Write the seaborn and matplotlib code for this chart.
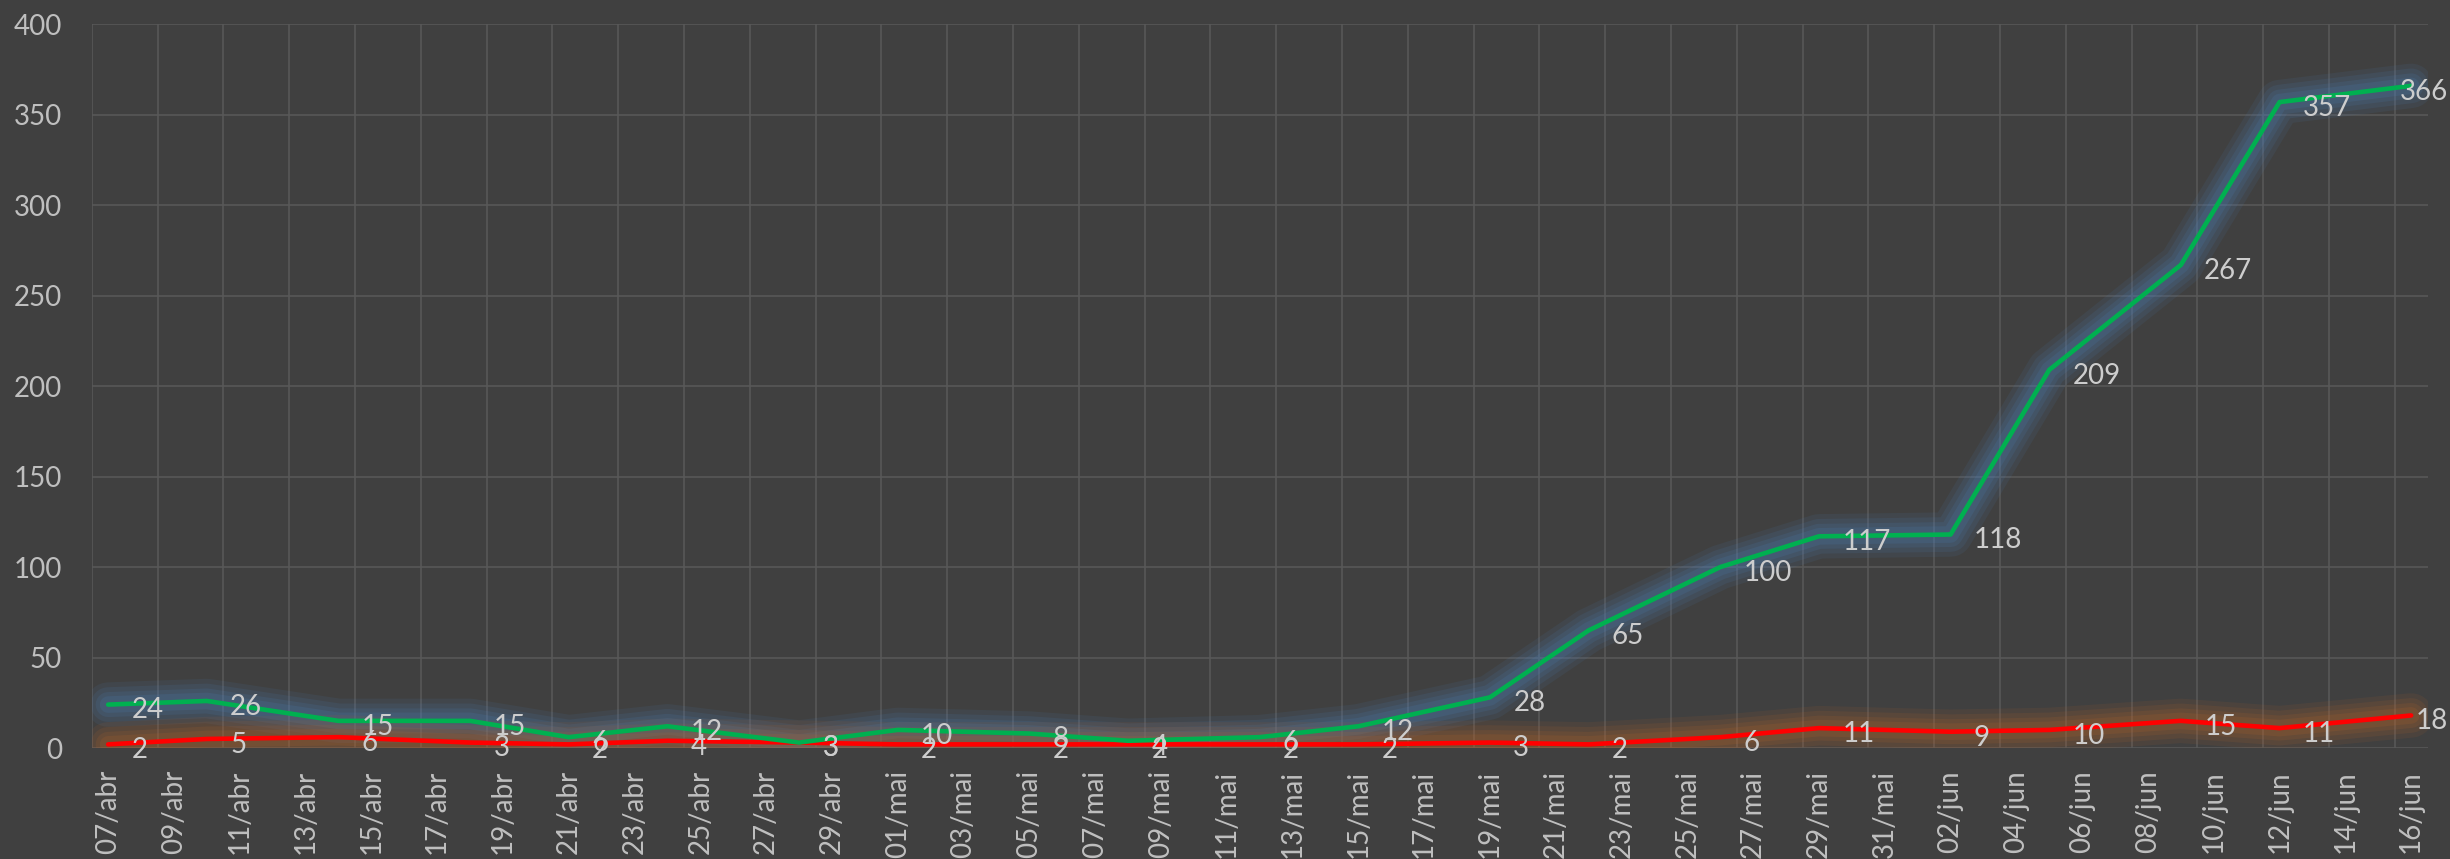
import numpy as np
import pandas as pd
import matplotlib
matplotlib.use("Agg")
import matplotlib.pyplot as plt
import seaborn as sns

# dados (dd/mm de 2020)
datas = ["07/04", "10/04", "14/04", "18/04", "21/04", "24/04", "28/04",
         "01/05", "05/05", "08/05", "12/05", "15/05", "19/05", "22/05",
         "26/05", "29/05", "02/06", "05/06", "09/06", "12/06", "16/06"]
serie_verde = [24, 26, 15, 15, 6, 12, 3, 10, 8, 4, 6, 12, 28, 65, 100,
               117, 118, 209, 267, 357, 366]
serie_vermelha = [2, 5, 6, 3, 2, 4, 3, 2, 2, 2, 2, 2, 3, 2, 6, 11, 9,
                  10, 15, 11, 18]
meses = {4: "abr", 5: "mai", 6: "jun"}

BG = "#404040"
GRID = "#585858"
TXT = "#cdcdcd"
TICK = "#bfbfbf"
FS = 20

df = pd.DataFrame({
    "data": pd.to_datetime([d + "/2020" for d in datas], format="%d/%m/%Y"),
    "verde": serie_verde,
    "vermelha": serie_vermelha,
})
inicio = df["data"].min()
df["dia"] = (df["data"] - inicio).dt.days

sns.set_theme(style="dark")
plt.rcParams["font.family"] = ["Lato", "DejaVu Sans"]

fig = plt.figure(figsize=(24.5, 8.59), dpi=100, facecolor=BG)
ax = fig.add_axes([0.03743, 0.12922, 0.95343, 0.84249])
ax.set_facecolor(BG)

# brilho (glow) por baixo das linhas
for serie, cor_glow in [("verde", "#4a80b8"), ("vermelha", "#b8642a")]:
    for lw, a in zip([32, 25, 18, 12], [0.10, 0.12, 0.14, 0.16]):
        sns.lineplot(data=df, x="dia", y=serie, ax=ax, color=cor_glow,
                     linewidth=lw, alpha=a, legend=False,
                     solid_joinstyle="round", solid_capstyle="round")

sns.lineplot(data=df, x="dia", y="vermelha", ax=ax, color="#ff0000",
             linewidth=3.3, legend=False, solid_joinstyle="round", zorder=5)
sns.lineplot(data=df, x="dia", y="verde", ax=ax, color="#00b050",
             linewidth=3.3, legend=False, solid_joinstyle="round", zorder=6)

# rotulos de dados
ultimo = df["dia"].max()
for serie in ["verde", "vermelha"]:
    for x, v in zip(df["dia"], df[serie]):
        if x == ultimo:
            ax.annotate(str(v), (x, v), xytext=(26.6, -10), textcoords="offset points",
                        ha="right", va="baseline", fontsize=FS, color=TXT,
                        zorder=10, annotation_clip=False)
        else:
            ax.annotate(str(v), (x, v), xytext=(16.8, -10), textcoords="offset points",
                        ha="left", va="baseline", fontsize=FS, color=TXT, zorder=10)

# eixos
dias_tick = pd.date_range(inicio, periods=36, freq="2D")
ax.set_xticks(range(0, 71, 2))
ax.set_xticklabels([f"{d.day:02d}/{meses[d.month]}" for d in dias_tick])
ax.set_xticks(np.arange(-0.5, 70, 2), minor=True)
ax.set_xlim(-0.5, 70.5)
ax.set_ylim(0, 400)
ax.set_yticks(range(0, 401, 50))
ax.set_xlabel("")
ax.set_ylabel("")

ax.tick_params(axis="x", which="major", rotation=90, pad=15.8, length=0,
               labelsize=FS, labelcolor=TICK)
ax.tick_params(axis="x", which="minor", length=0)
ax.tick_params(axis="y", pad=21.4, length=0, labelsize=FS, labelcolor=TICK)

ax.grid(False)
ax.grid(which="minor", axis="x", color=GRID, linewidth=1.2, zorder=0)
ax.grid(which="major", axis="y", color=GRID, linewidth=1.2, zorder=0)
ax.set_axisbelow(True)
sns.despine(ax=ax, left=True, bottom=True)

fig.savefig("out.png", dpi=100, facecolor=BG)
